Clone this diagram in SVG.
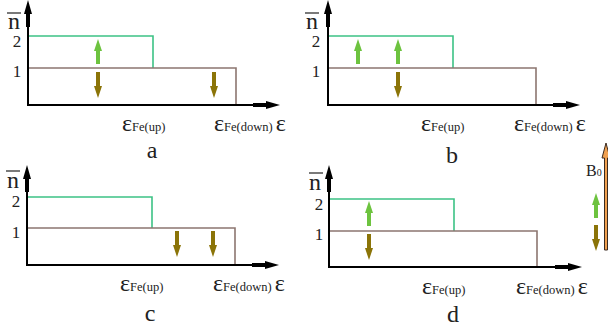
<svg xmlns="http://www.w3.org/2000/svg" width="608" height="335" viewBox="0 0 608 335">
<style>
.ax{stroke:#000;stroke-width:2;fill:none}
.hd{fill:#000}
.g{stroke:#3cc285;stroke-width:1.6;fill:none}
.b{stroke:#8c7670;stroke-width:1.6;fill:none}
.up{fill:#6dc33f}
.dn{fill:#8b7408}
.t{font-family:"Liberation Serif","Times New Roman",serif;fill:#222}
.eps{font-size:24px}
.sub{font-size:12.5px}
.num{font-size:17px}
.lab{font-size:24px}
.nb{font-size:24px}
</style>
<defs>
<path id="xh" d="M0,-2 L13,-2 L13,-4 L27,0 L13,4 L13,2 L0,2 Z"/>
<path id="au" d="M0,0 L4,12 L2,12 L2,25 L-2,25 L-2,12 L-4,12 Z"/>
<path id="ad" d="M0,0 L4,-12 L2,-12 L2,-26 L-2,-26 L-2,-12 L-4,-12 Z"/>
</defs>

<g id="panel-a">
<path class="g" d="M28,36 H153 V68"/>
<path class="b" d="M28,68 H236 V105"/>
<path class="ax" d="M28,27 V105 H254"/>
<use href="#xh" class="hd" transform="translate(253,105)"/>
<use href="#xh" class="hd" transform="translate(28,27) rotate(-90)"/>
<text class="t nb" x="8" y="29">n</text>
<line x1="7" y1="13" x2="21" y2="13" stroke="#222" stroke-width="1.2"/>
<text class="t num" x="17" y="47" text-anchor="middle">2</text>
<text class="t num" x="17" y="77" text-anchor="middle">1</text>
<use href="#au" class="up" transform="translate(98,39)"/>
<use href="#ad" class="dn" transform="translate(98,98)"/>
<use href="#ad" class="dn" transform="translate(214,98)"/>
<text class="t" x="122" y="131"><tspan class="eps">ε</tspan><tspan class="sub">Fe(up)</tspan></text>
<text class="t" x="214" y="131"><tspan class="eps">ε</tspan><tspan class="sub">Fe(down) </tspan><tspan class="eps">ε</tspan></text>
<text class="t lab" x="152" y="158" text-anchor="middle">a</text>
</g>

<g id="panel-b">
<path class="g" d="M328,36 H453 V68"/>
<path class="b" d="M328,68 H536 V105"/>
<path class="ax" d="M328,27 V105 H554"/>
<use href="#xh" class="hd" transform="translate(553,105)"/>
<use href="#xh" class="hd" transform="translate(328,27) rotate(-90)"/>
<text class="t nb" x="306" y="29">n</text>
<line x1="305" y1="13" x2="319" y2="13" stroke="#222" stroke-width="1.2"/>
<text class="t num" x="316" y="47" text-anchor="middle">2</text>
<text class="t num" x="316" y="77" text-anchor="middle">1</text>
<use href="#au" class="up" transform="translate(358,39)"/>
<use href="#au" class="up" transform="translate(398,39)"/>
<use href="#ad" class="dn" transform="translate(398,98)"/>
<text class="t" x="421" y="131"><tspan class="eps">ε</tspan><tspan class="sub">Fe(up)</tspan></text>
<text class="t" x="514" y="131"><tspan class="eps">ε</tspan><tspan class="sub">Fe(down) </tspan><tspan class="eps">ε</tspan></text>
<text class="t lab" x="452" y="163" text-anchor="middle">b</text>
</g>

<g id="panel-c">
<path class="g" d="M27,197 H152 V228"/>
<path class="b" d="M27,228 H235 V265"/>
<path class="ax" d="M27,192 V265 H253"/>
<use href="#xh" class="hd" transform="translate(252,265)"/>
<use href="#xh" class="hd" transform="translate(27,192) rotate(-90)"/>
<text class="t nb" x="7" y="188">n</text>
<line x1="6" y1="171" x2="20" y2="171" stroke="#222" stroke-width="1.2"/>
<text class="t num" x="16" y="207" text-anchor="middle">2</text>
<text class="t num" x="16" y="238" text-anchor="middle">1</text>
<use href="#ad" class="dn" transform="translate(177,257)"/>
<use href="#ad" class="dn" transform="translate(213,257)"/>
<text class="t" x="120" y="291"><tspan class="eps">ε</tspan><tspan class="sub">Fe(up)</tspan></text>
<text class="t" x="213" y="291"><tspan class="eps">ε</tspan><tspan class="sub">Fe(down) </tspan><tspan class="eps">ε</tspan></text>
<text class="t lab" x="150" y="321" text-anchor="middle">c</text>
</g>

<g id="panel-d">
<path class="g" d="M329,199 H454 V231"/>
<path class="b" d="M329,231 H537 V267"/>
<path class="ax" d="M329,192 V267 H556"/>
<use href="#xh" class="hd" transform="translate(555,267)"/>
<use href="#xh" class="hd" transform="translate(329,192) rotate(-90)"/>
<text class="t nb" x="309" y="190">n</text>
<line x1="309" y1="173" x2="323" y2="173" stroke="#222" stroke-width="1.2"/>
<text class="t num" x="319" y="210" text-anchor="middle">2</text>
<text class="t num" x="319" y="240" text-anchor="middle">1</text>
<use href="#au" class="up" transform="translate(369,201)"/>
<use href="#ad" class="dn" transform="translate(369,260)"/>
<text class="t" x="422" y="294"><tspan class="eps">ε</tspan><tspan class="sub">Fe(up)</tspan></text>
<text class="t" x="516" y="294"><tspan class="eps">ε</tspan><tspan class="sub">Fe(down) </tspan><tspan class="eps">ε</tspan></text>
<text class="t lab" x="453" y="322" text-anchor="middle">d</text>
</g>

<g id="field-B0">
<path d="M604.5,158 V250 H607.5 V158 H610 L606,143 L602,158 Z" fill="#f0a050" stroke="#3a2a20" stroke-width="1"/>
<text class="t" x="586" y="176" font-size="16">B<tspan font-size="10">0</tspan></text>
<use href="#au" class="up" transform="translate(596,193)"/>
<use href="#ad" class="dn" transform="translate(596,251)"/>
</g>
</svg>
